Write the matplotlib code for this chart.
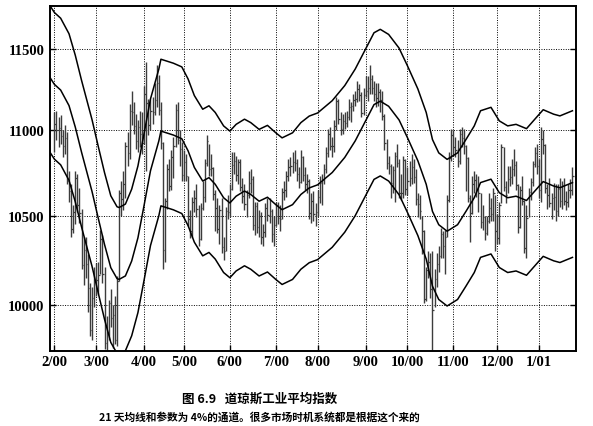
import matplotlib
matplotlib.use('Agg')
import matplotlib.pyplot as plt
import numpy as np
from matplotlib.ticker import FixedLocator, NullLocator, FixedFormatter, NullFormatter

plt.rcParams['font.family'] = ['Liberation Serif', 'DejaVu Serif']

# ---- data (Dow Jones Industrial Average, daily, Feb 2000 - Jan 2001) ----
MONTH_LABELS = ['2/00', '3/00', '4/00', '5/00', '6/00', '7/00', '8/00',
                '9/00', '10/00', '11/00', '12/00', '1/01']
MONTH_START_DAY = [0, 20, 43, 62, 84, 106, 126, 149, 169, 191, 212, 232]
PRICE_TICKS = [10000, 10500, 11000, 11500]

CLOSE = [
    11041, 11003, 11013, 10964, 10905, 10957, 10699, 10643, 10425, 10519,
    10718, 10561, 10514, 10219, 10304, 10226, 10092, 9862, 10038, 10128,
    10137, 10164, 10367, 10170, 9796, 9856, 10010, 9929, 9948, 9811,
    10131, 10630, 10595, 10680, 10907, 10866, 11119, 11112, 11025, 10936,
    11018, 10980, 10922, 11221, 11165, 11033, 11115, 11111, 11187, 11287,
    11126, 10923, 10306, 10582, 10768, 10674, 10844, 10906, 11125, 10945,
    10888, 10734, 10812, 10732, 10480, 10412, 10577, 10603, 10536, 10367,
    10545, 10609, 10807, 10935, 10770, 10777, 10627, 10542, 10422, 10535,
    10324, 10300, 10527, 10522, 10652, 10794, 10815, 10735, 10812, 10668,
    10614, 10564, 10621, 10687, 10714, 10449, 10557, 10435, 10497, 10376,
    10404, 10542, 10504, 10527, 10398, 10448, 10560, 10484, 10481, 10636,
    10646, 10727, 10784, 10788, 10812, 10804, 10739, 10697, 10843, 10733,
    10685, 10699, 10517, 10586, 10512, 10522, 10606, 10688, 10706, 10768,
    10867, 10977, 10906, 10908, 11027, 11177, 11067, 11009, 11056, 11047,
    11080, 11140, 11145, 11183, 11192, 11253, 11215, 11103, 11215, 11238,
    11260, 11310, 11259, 11220, 11195, 11233, 11182, 11087, 10927, 10808,
    10789, 10687, 10765, 10847, 10808, 10631, 10628, 10824, 10651, 10700,
    10719, 10784, 10724, 10596, 10568, 10524, 10413, 10034, 10192, 10238,
    10089, 9975, 10142, 10226, 10272, 10393, 10326, 10380, 10590, 10835,
    10971, 10899, 10880, 10817, 10977, 10952, 10907, 10834, 10602, 10517,
    10681, 10707, 10656, 10629, 10462, 10494, 10399, 10470, 10546, 10507,
    10629, 10415, 10373, 10560, 10898, 10664, 10617, 10713, 10725, 10768,
    10794, 10675, 10434, 10645, 10584, 10318, 10487, 10635, 10692, 10803,
    10868, 10787, 10646, 10946, 10912, 10662, 10621, 10572, 10604, 10609,
    10525, 10652, 10584, 10678, 10587, 10578, 10649, 10646, 10729,
]
HIGH = [
    11110, 11120, 11080, 11090, 11000, 11030, 10990, 10760, 10680, 10560,
    10760, 10740, 10660, 10540, 10380, 10380, 10280, 10120, 10100, 10210,
    10230, 10240, 10420, 10390, 10210, 9940, 10030, 10090, 10000, 10050,
    10160, 10650, 10700, 10760, 10930, 10990, 11160, 11240, 11170, 11100,
    11060, 11120, 11110, 11270, 11420, 11190, 11190, 11200, 11290, 11400,
    11340, 11170, 10930, 10600, 10800, 10830, 10880, 10960, 11160, 11170,
    11000, 10930, 10880, 10860, 10730, 10530, 10610, 10650, 10680, 10560,
    10570, 10700, 10830, 10970, 10920, 10860, 10780, 10650, 10600, 10560,
    10600, 10380, 10550, 10620, 10680, 10870, 10870, 10850, 10830, 10830,
    10720, 10680, 10650, 10760, 10770, 10730, 10580, 10580, 10530, 10520,
    10450, 10570, 10600, 10600, 10540, 10500, 10580, 10580, 10560, 10660,
    10700, 10760, 10830, 10840, 10870, 10880, 10830, 10780, 10880, 10850,
    10780, 10740, 10710, 10630, 10640, 10570, 10650, 10730, 10740, 10800,
    10900, 11010, 11020, 10960, 11060, 11200, 11190, 11110, 11100, 11110,
    11120, 11190, 11170, 11220, 11240, 11300, 11280, 11230, 11260, 11330,
    11330, 11400, 11340, 11300, 11290, 11290, 11250, 11240, 11100, 10950,
    10850, 10800, 10790, 10870, 10920, 10830, 10740, 10850, 10830, 10780,
    10820, 10860, 10830, 10770, 10630, 10620, 10500, 10420, 10210, 10300,
    10290, 10300, 10200, 10290, 10330, 10430, 10410, 10420, 10620, 10870,
    11010, 11000, 10960, 10940, 11010, 11020, 11010, 10910, 10840, 10620,
    10730, 10760, 10740, 10730, 10630, 10560, 10500, 10500, 10630, 10600,
    10660, 10620, 10510, 10580, 10920, 10900, 10700, 10790, 10790, 10830,
    10890, 10820, 10680, 10670, 10730, 10590, 10560, 10660, 10720, 10820,
    10900, 10920, 10830, 11020, 11000, 10920, 10680, 10720, 10630, 10690,
    10680, 10680, 10720, 10700, 10720, 10640, 10680, 10710, 10780,
]
LOW = [
    10870, 10940, 10900, 10920, 10840, 10860, 10680, 10580, 10380, 10400,
    10450, 10520, 10460, 10200, 10110, 10150, 9960, 9830, 9810, 9990,
    10050, 10060, 10170, 10120, 9760, 9730, 9810, 9880, 9770, 9790,
    9780, 10130, 10500, 10530, 10600, 10790, 10830, 11030, 10980, 10890,
    10870, 10900, 10860, 10920, 10760, 10970, 11000, 11040, 11090, 11140,
    11090, 10890, 10200, 10240, 10540, 10640, 10650, 10720, 10900, 10920,
    10790, 10700, 10700, 10700, 10440, 10370, 10380, 10520, 10490, 10330,
    10360, 10530, 10580, 10790, 10730, 10730, 10590, 10410, 10400, 10340,
    10290, 10250, 10300, 10480, 10500, 10650, 10740, 10700, 10680, 10640,
    10570, 10530, 10490, 10600, 10630, 10420, 10390, 10400, 10380, 10340,
    10330, 10380, 10470, 10460, 10350, 10330, 10440, 10450, 10410, 10480,
    10590, 10610, 10700, 10730, 10750, 10760, 10700, 10660, 10690, 10700,
    10650, 10630, 10480, 10460, 10470, 10440, 10500, 10570, 10560, 10680,
    10750, 10840, 10880, 10840, 10870, 11000, 11040, 10970, 10980, 11010,
    11020, 11060, 11050, 11120, 11150, 11170, 11180, 11080, 11090, 11200,
    11180, 11220, 11220, 11180, 11140, 11150, 11110, 11060, 10880, 10770,
    10740, 10600, 10630, 10580, 10780, 10600, 10590, 10600, 10620, 10620,
    10670, 10680, 10690, 10560, 10490, 10480, 10280, 10010, 10020, 10150,
    10040, 9650, 9990, 10100, 10180, 10260, 10260, 10170, 10380, 10580,
    10820, 10850, 10840, 10780, 10800, 10900, 10860, 10640, 10580, 10350,
    10510, 10630, 10610, 10520, 10430, 10420, 10360, 10390, 10460, 10470,
    10470, 10300, 10340, 10340, 10570, 10640, 10570, 10630, 10670, 10680,
    10730, 10650, 10400, 10430, 10560, 10290, 10260, 10490, 10590, 10670,
    10780, 10740, 10600, 10580, 10860, 10630, 10540, 10550, 10480, 10530,
    10470, 10500, 10550, 10540, 10560, 10530, 10550, 10600, 10620,
]

# 21-day moving average
MA_DAY = [-2, 0, 3, 7, 10, 13, 18, 21, 24, 27, 30, 31, 34, 37, 40, 43, 46,
          50, 51, 57, 61, 64, 67, 71, 74, 77, 81, 84, 87, 91, 94, 98, 102,
          106, 109, 114, 118, 122, 126, 133, 139, 144, 149, 153, 156, 160,
          165, 169, 174, 178, 181, 184, 188, 193, 197, 201, 204, 209, 213,
          217, 221, 226, 230, 234, 239, 242, 248]
MA_VALUE = [11320, 11280, 11245, 11150, 11020, 10870, 10640, 10485, 10336,
            10206, 10145, 10141, 10160, 10243, 10374, 10563, 10760, 10937,
            10996, 10972, 10950, 10878, 10780, 10700, 10720, 10681, 10603,
            10573, 10612, 10642, 10622, 10583, 10606, 10563, 10534, 10563,
            10622, 10660, 10678, 10750, 10839, 10937, 11058, 11156, 11177,
            11146, 11063, 10957, 10819, 10681, 10524, 10448, 10411, 10448,
            10524, 10603, 10691, 10711, 10632, 10603, 10612, 10587, 10642,
            10697, 10671, 10661, 10691]
BAND_PCT = 4  # channel parameter, percent

# ---- figure ----
fig = plt.figure(figsize=(5.93, 4.27), dpi=100)
ax = fig.add_axes([50 / 593, 1 - 352 / 427, 526 / 593, 345 / 427])

day = np.arange(len(CLOSE))
bar_col = '#3c3c3c'
ax.vlines(day, LOW, HIGH, color=bar_col, lw=1.0, zorder=2)
ax.hlines(CLOSE, day, day + 0.7, color=bar_col, lw=0.9, zorder=2)

ma = np.array(MA_VALUE, dtype=float)
k = BAND_PCT / 100.0
for series in (ma, ma * (1 + k), ma * (1 - k)):
    ax.plot(MA_DAY, series, color='black', lw=1.1, zorder=3,
            solid_joinstyle='round')

ax.set_yscale('log')
ax.set_ylim(9752, 11773)
ax.set_xlim(-2.1, 249.7)

ax.yaxis.set_major_locator(FixedLocator(PRICE_TICKS))
ax.yaxis.set_major_formatter(FixedFormatter([str(v) for v in PRICE_TICKS]))
ax.yaxis.set_minor_locator(NullLocator())
ax.yaxis.set_minor_formatter(NullFormatter())
ax.xaxis.set_major_locator(FixedLocator(MONTH_START_DAY))
ax.xaxis.set_major_formatter(FixedFormatter(MONTH_LABELS))

ax.grid(True, which='major', color='black', ls=(0, (1, 1.5)), lw=0.7)
ax.tick_params(axis='y', which='major', left=True, right=True, direction='in',
               length=4, width=1, pad=4)
ax.tick_params(axis='x', which='major', bottom=True, direction='in',
               length=4, width=1, pad=3)
for lab in ax.get_xticklabels() + ax.get_yticklabels():
    lab.set_fontfamily(['Liberation Serif', 'DejaVu Serif'])
    lab.set_fontsize(10.5)
    lab.set_fontweight('bold')
for s in ax.spines.values():
    s.set_linewidth(1.4)
    s.set_color('black')

fig.text(260 / 593, 1 - 399 / 427, '图 6.9   道琼斯工业平均指数',
         ha='center', va='center', fontsize=9,
         family=['Noto Sans CJK SC', 'DejaVu Sans'], fontweight='bold')
fig.text(259 / 593, 1 - 417 / 427, '21 天均线和参数为 4%的通道。很多市场时机系统都是根据这个来的',
         ha='center', va='center', fontsize=7.7,
         family=['Noto Sans CJK SC', 'DejaVu Sans'], fontweight='bold')

fig.savefig('out.png', dpi=100)
